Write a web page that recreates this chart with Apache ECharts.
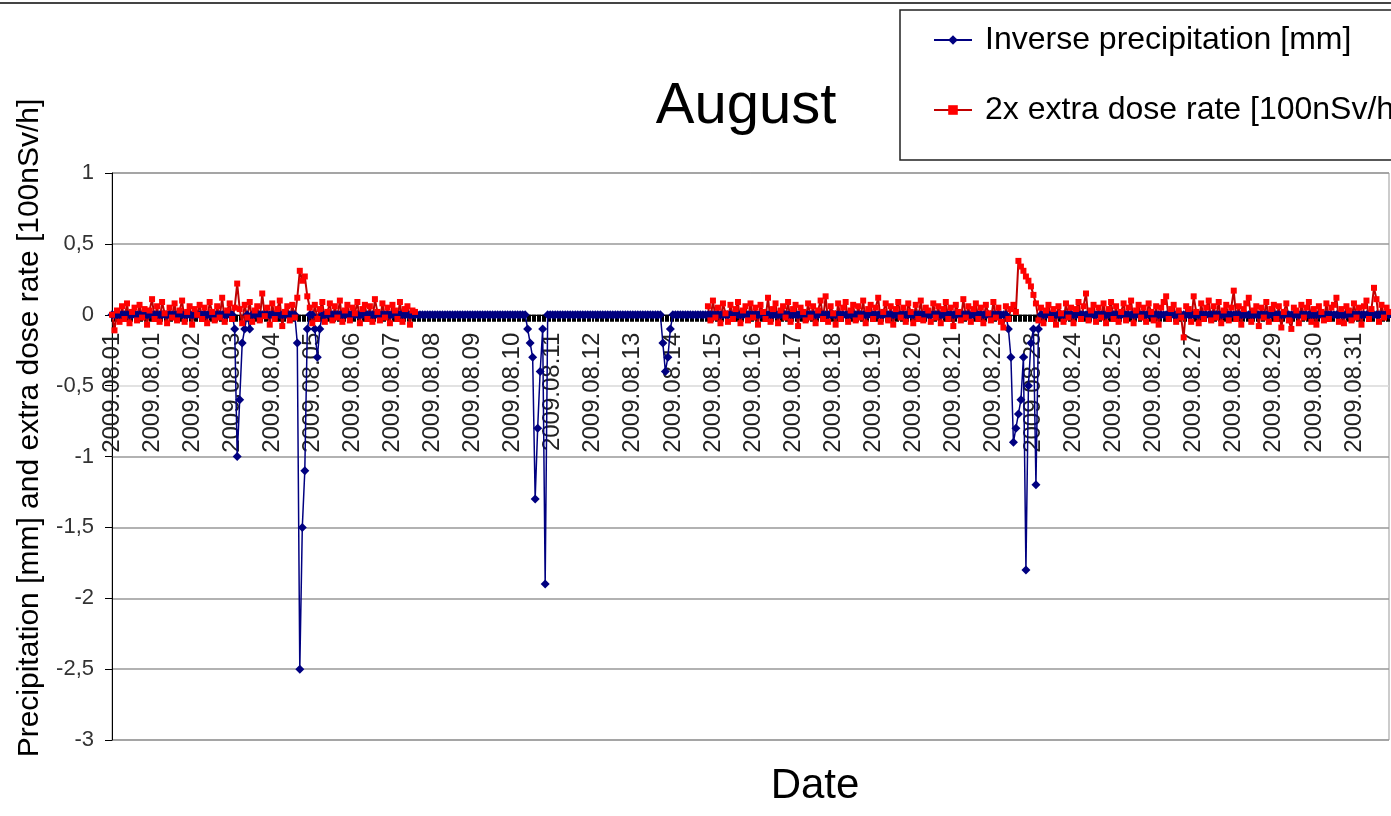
<!DOCTYPE html>
<html>
<head>
<meta charset="utf-8">
<script src="https://cdn.jsdelivr.net/npm/echarts@6/dist/echarts.min.js"></script>
<style>
html,body{margin:0;padding:0;background:#fff;}
#chart{width:1391px;height:816px;}
</style>
</head>
<body>
<div id="chart"></div>
<script>
// ---- data ----
const tickLabels = ['2009.08.01','2009.08.01','2009.08.02','2009.08.03','2009.08.04','2009.08.05','2009.08.06','2009.08.07',
  '2009.08.08','2009.08.09','2009.08.10','2009.08.11','2009.08.12','2009.08.13','2009.08.14','2009.08.15','2009.08.16',
  '2009.08.17','2009.08.18','2009.08.19','2009.08.20','2009.08.21','2009.08.22','2009.08.23','2009.08.24','2009.08.25',
  '2009.08.26','2009.08.27','2009.08.28','2009.08.29','2009.08.30','2009.08.31'];
const pointsPerLabel = 16;
const pointCount = 511;

// 2x extra dose rate, first recorded stretch (from first point)
const doseA = [
  0.00,-0.11,0.03,-0.05,0.06,-0.03,0.08,-0.06,0.02,0.05,-0.04,0.07,-0.02,0.04,-0.07,0.03,
  0.11,-0.03,0.06,-0.05,0.09,0.01,-0.06,0.05,-0.02,0.08,-0.04,0.03,0.10,-0.05,0.02,0.06,
  -0.07,0.04,0.00,0.07,-0.03,0.05,-0.06,0.09,0.02,-0.04,0.06,-0.02,0.12,-0.05,0.03,0.08,
  -0.03,0.05,0.22,0.04,-0.06,0.07,-0.02,0.09,-0.05,0.03,0.06,-0.04,0.15,-0.01,0.05,-0.07,
  0.08,-0.03,0.04,0.10,-0.08,0.02,0.06,-0.04,0.07,-0.02,0.12,0.31,0.24,0.27,0.13,0.05,
  -0.06,0.07,-0.03,0.04,0.09,-0.05,0.02,0.08,-0.04,0.06,-0.02,0.10,-0.05,0.03,0.07,-0.04,
  0.05,0.01,0.09,-0.06,0.04,0.07,-0.03,0.06,-0.05,0.11,0.02,-0.04,0.08,-0.02,0.05,-0.06,
  0.07,0.03,-0.03,0.09,-0.05,0.04,0.06,-0.07,0.03,0.02
];
const doseBStart = 238;
// 2x extra dose rate, second recorded stretch (to the end)
const doseB = [
  0.06,-0.04,0.10,-0.02,0.05,-0.06,0.08,0.01,-0.05,0.07,-0.03,0.04,0.09,-0.06,0.03,0.06,
  -0.04,0.08,-0.02,0.05,-0.07,0.07,0.02,-0.03,0.12,-0.05,0.04,0.08,-0.06,0.03,0.06,-0.02,
  0.09,-0.05,0.04,0.07,-0.08,0.05,0.02,-0.04,0.08,-0.02,0.06,-0.06,0.03,0.10,-0.03,0.13,
  -0.05,0.06,0.01,-0.07,0.08,-0.03,0.05,0.09,-0.05,0.03,0.07,-0.04,0.06,-0.02,0.10,-0.06,
  0.04,0.07,-0.03,0.05,0.12,-0.05,0.02,0.08,-0.04,0.06,-0.07,0.04,0.09,-0.02,0.05,-0.05,
  0.08,0.02,-0.06,0.07,-0.03,0.10,-0.04,0.05,0.03,-0.05,0.08,-0.02,0.06,-0.06,0.04,0.09,
  -0.03,0.05,-0.08,0.07,0.02,-0.04,0.11,-0.02,0.06,-0.05,0.04,0.08,-0.03,0.05,-0.06,0.07,
  0.01,-0.04,0.09,-0.02,0.05,-0.05,-0.09,0.06,-0.03,0.04,0.07,0.02,0.38,0.34,0.31,0.27,
  0.24,0.20,0.14,0.08,-0.04,0.05,-0.06,0.03,0.07,-0.03,0.04,-0.07,0.06,0.01,-0.05,0.08,
  -0.02,0.05,-0.06,0.04,0.09,-0.03,0.06,0.15,-0.04,0.03,0.07,-0.05,0.05,-0.02,0.08,-0.06,
  0.04,0.09,-0.03,0.06,-0.05,0.02,0.08,-0.04,0.05,0.10,-0.06,0.03,0.07,-0.02,0.05,-0.05,
  0.08,0.02,-0.04,0.06,-0.07,0.05,0.09,0.13,-0.03,0.04,0.07,-0.05,0.03,-0.02,-0.16,0.06,
  0.04,-0.05,0.13,0.02,-0.06,0.08,-0.03,0.05,0.10,-0.04,0.06,-0.02,0.09,-0.06,0.03,0.07,
  -0.04,0.05,0.17,-0.03,0.06,-0.07,0.04,0.08,0.12,-0.05,0.03,0.06,-0.08,0.05,-0.02,0.09,
  -0.05,0.04,0.07,-0.03,0.06,-0.09,0.02,0.08,-0.04,-0.10,0.05,0.03,-0.06,0.07,-0.02,0.05,
  0.09,-0.05,0.04,-0.07,0.06,0.02,-0.04,0.08,-0.03,0.05,0.07,0.12,-0.05,0.04,-0.06,0.06,
  0.03,-0.04,0.08,-0.02,0.05,-0.07,0.06,0.10,-0.03,0.04,0.19,0.11,-0.05,0.07,-0.02,0.05,
  0.02
];
// inverse precipitation: [point index, value]; all other readings are 0
const rainEvents = [
  [49,-0.1],[50,-1.0],[51,-0.6],[52,-0.2],[53,-0.1],[55,-0.1],
  [74,-0.2],[75,-2.5],[76,-1.5],[77,-1.1],[78,-0.1],[81,-0.1],[82,-0.3],[83,-0.1],
  [166,-0.1],[167,-0.2],[168,-0.3],[169,-1.3],[170,-0.8],[171,-0.4],[172,-0.1],[173,-1.9],
  [220,-0.2],[221,-0.4],[222,-0.3],[223,-0.1],
  [358,-0.1],[359,-0.3],[360,-0.9],[361,-0.8],[362,-0.7],[363,-0.6],[364,-0.3],[365,-1.8],
  [366,-0.5],[367,-0.2],[368,-0.1],[369,-1.2],[370,-0.1]
];
const yTicks = {min:-3, max:1, interval:0.5};

// ---- build ----
const categories = [];
for (let k = 0; k < pointCount; k++) {
  categories.push(tickLabels[Math.floor(k / pointsPerLabel)] + ' #' + (k % pointsPerLabel));
}
const rain = new Array(pointCount).fill(0);
rainEvents.forEach(([i, v]) => { rain[i] = v; });
const dose = new Array(pointCount).fill(null);
doseA.forEach((v, i) => { dose[i] = v; });
doseB.forEach((v, i) => { dose[doseBStart + i] = v; });

const W = 1391, H = 816;
const gridBox = {left: 112, right: 2, top: 173, bottom: 76};
const plotH = H - gridBox.top - gridBox.bottom;
// category axis crosses the value axis at 0 (placed via offset from the bottom edge)
const zeroOffset = -plotH * (0 - yTicks.min) / (yTicks.max - yTicks.min);

const FONT = '"Liberation Sans", Arial, sans-serif';
const chart = echarts.init(document.getElementById('chart'), null, {renderer: 'canvas'});
chart.setOption({
  animation: false,
  backgroundColor: '#fff',
  grid: Object.assign({show: true, borderColor: '#999', borderWidth: 1, containLabel: false, outerBoundsMode: 'none'}, gridBox),
  legend: {
    orient: 'vertical', left: 928, top: 19, itemWidth: 38, itemHeight: 12, itemGap: 38,
    textStyle: {fontSize: 32, color: '#000', fontFamily: FONT, padding: [0, 0, 0, 8]},
    data: ['Inverse precipitation [mm]', '2x extra dose rate [100nSv/h]']
  },
  xAxis: {
    type: 'category', data: categories, boundaryGap: false, position: 'bottom', offset: zeroOffset,
    axisLine: {onZero: false, lineStyle: {color: '#000', width: 1}},
    axisTick: {show: true, interval: 0, length: 7, lineStyle: {color: '#000', width: 2}},
    axisLabel: {
      interval: pointsPerLabel - 1, rotate: 90, margin: 18, fontSize: 24, color: '#222', fontFamily: FONT,
      formatter: v => v.split(' ')[0]
    },
    splitLine: {show: false}
  },
  yAxis: {
    type: 'value', min: yTicks.min, max: yTicks.max, interval: yTicks.interval,
    axisLine: {show: true, lineStyle: {color: '#000', width: 1}},
    axisTick: {show: true, length: 7, lineStyle: {color: '#000'}},
    axisLabel: {margin: 18, fontSize: 22, color: '#333', fontFamily: FONT,
      formatter: v => String(v).replace('.', ',')},
    splitLine: {show: true, lineStyle: {color: ['#999','#999','#999','#999','#999','#d9d9d9','#999','#999','#999'], width: 1.5}}
  },
  series: [
    {
      name: 'Inverse precipitation [mm]', type: 'line', data: rain,
      showSymbol: true, showAllSymbol: true, symbol: 'diamond', symbolSize: 9,
      lineStyle: {color: '#000080', width: 1.5}, itemStyle: {color: '#000080'}
    },
    {
      name: '2x extra dose rate [100nSv/h]', type: 'line', data: dose,
      showSymbol: true, showAllSymbol: true, symbol: 'rect', symbolSize: 6,
      lineStyle: {color: '#c00000', width: 2}, itemStyle: {color: '#ff0000'}
    }
  ],
  graphic: [
    {type: 'line', shape: {x1: 0, y1: 3, x2: W, y2: 3}, style: {stroke: '#444', lineWidth: 2}},
    {type: 'rect', shape: {x: 900, y: 10, width: 600, height: 150}, style: {fill: 'transparent', stroke: '#222', lineWidth: 1.5}},
    {type: 'text', x: 746, y: 107, style: {text: 'August', font: '58px ' + FONT, fill: '#000', textAlign: 'center', textVerticalAlign: 'middle'}},
    {type: 'text', x: 815, y: 786, style: {text: 'Date', font: '42px ' + FONT, fill: '#000', textAlign: 'center', textVerticalAlign: 'middle'}},
    {type: 'text', x: 30, y: 428, rotation: Math.PI / 2, style: {text: 'Precipitation [mm] and extra dose rate [100nSv/h]', font: '30px ' + FONT, fill: '#000', textAlign: 'center', textVerticalAlign: 'middle'}}
  ]
});
</script>
</body>
</html>
